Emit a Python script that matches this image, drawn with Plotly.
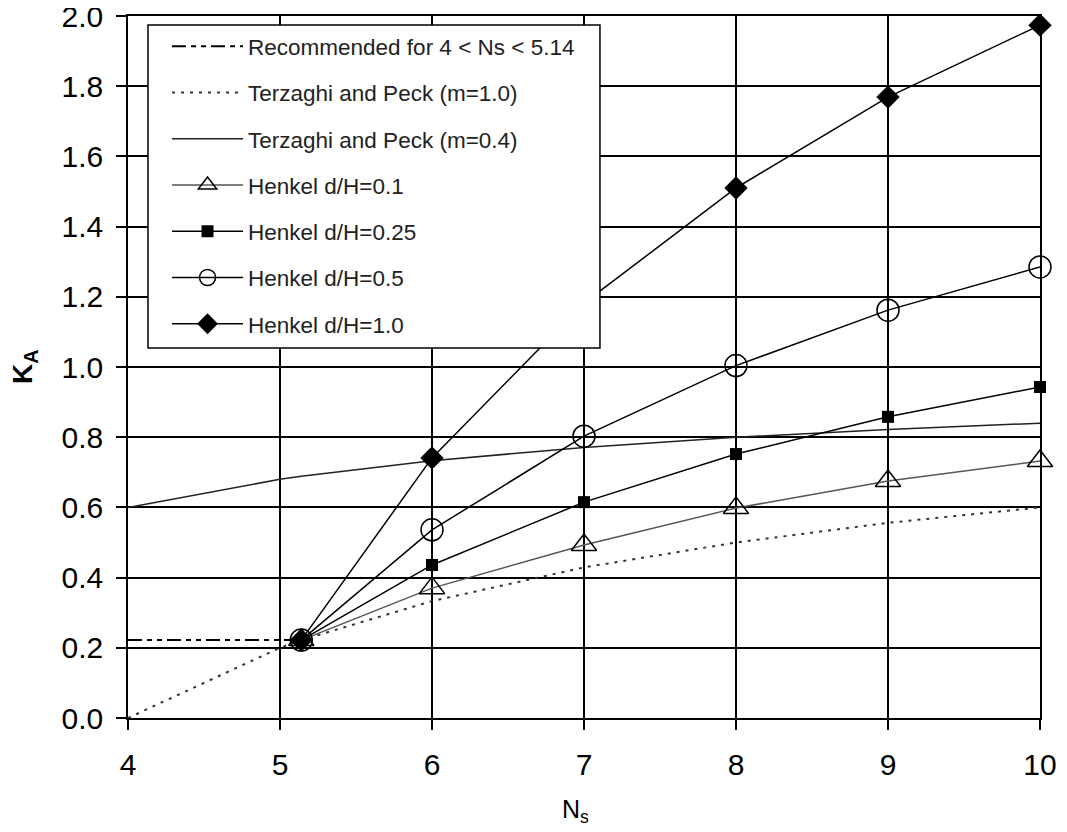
import plotly.graph_objects as go

# ---- data ----
rec_x = [4.0, 5.14]
rec_y = [0.222, 0.222]

tp10_x = [4, 5, 5.14, 6, 7, 8, 9, 10]
tp10_y = [0.0, 0.200, 0.222, 0.333, 0.429, 0.500, 0.556, 0.600]

tp04_x = [4, 5, 5.14, 6, 7, 8, 9, 10]
tp04_y = [0.600, 0.680, 0.689, 0.733, 0.771, 0.800, 0.822, 0.840]

hk_x = [5.14, 6, 7, 8, 9, 10]
hk010_y = [0.222, 0.370, 0.493, 0.598, 0.675, 0.732]
hk025_y = [0.222, 0.436, 0.615, 0.752, 0.858, 0.943]
hk050_y = [0.222, 0.536, 0.803, 1.004, 1.162, 1.285]
hk100_y = [0.222, 0.741, 1.182, 1.510, 1.769, 1.974]

x_ticks = [4, 5, 6, 7, 8, 9, 10]
y_ticks = [0.0, 0.2, 0.4, 0.6, 0.8, 1.0, 1.2, 1.4, 1.6, 1.8, 2.0]
y_ticklabels = [f"{v:.1f}" for v in y_ticks]

fig = go.Figure()

fig.add_trace(go.Scatter(
    x=rec_x, y=rec_y, mode="lines", name="Recommended for 4 < Ns < 5.14",
    legendgroup="a",
    line=dict(color="black", width=2, dash="14px,5px,5px,5px,5px,5px")))
fig.add_trace(go.Scatter(
    x=tp10_x, y=tp10_y, mode="lines", name="Terzaghi and Peck (m=1.0)",
    legendgroup="b",
    line=dict(color="#333333", width=2, dash="3px,6px")))
fig.add_trace(go.Scatter(
    x=tp04_x, y=tp04_y, mode="lines", name="Terzaghi and Peck (m=0.4)",
    legendgroup="c",
    line=dict(color="#222222", width=1.5)))
fig.add_trace(go.Scatter(
    x=hk_x, y=hk010_y, mode="lines+markers", name="Henkel d/H=0.1",
    legendgroup="d",
    line=dict(color="#555555", width=1.5),
    marker=dict(symbol="triangle-up-open", size=22, color="black",
                line=dict(color="black", width=1.5))))
fig.add_trace(go.Scatter(
    x=hk_x, y=hk025_y, mode="lines+markers", name="Henkel d/H=0.25",
    legendgroup="e",
    line=dict(color="black", width=1.5),
    marker=dict(symbol="square", size=12, color="black")))
fig.add_trace(go.Scatter(
    x=hk_x, y=hk050_y, mode="lines+markers", name="Henkel d/H=0.5",
    legendgroup="f",
    line=dict(color="black", width=1.5),
    marker=dict(symbol="circle-open", size=22, color="black",
                line=dict(color="black", width=1.5))))
fig.add_trace(go.Scatter(
    x=hk_x, y=hk100_y, mode="lines+markers", name="Henkel d/H=1.0",
    legendgroup="g",
    line=dict(color="black", width=1.5),
    marker=dict(symbol="diamond", size=18, color="black")))

for tr in fig.data:
    tr.cliponaxis = False

tick_font = dict(family="Liberation Sans, Arial, sans-serif", size=30, color="black")

# figure placed inside the page's default 8px body margin
fig.update_layout(
    width=1059, height=824,
    margin=dict(l=120, r=27, t=8, b=114, autoexpand=False),
    paper_bgcolor="white", plot_bgcolor="white",
    showlegend=True,
    legend=dict(
        x=0.0428, y=0.987, xanchor="left", yanchor="top",
        bgcolor="rgba(0,0,0,0)", borderwidth=0,
        font=dict(family="Liberation Sans, Arial, sans-serif", size=22.5, color="#222222"),
        itemwidth=71, tracegroupgap=14, traceorder="grouped",
    ),
    shapes=[
        # legend frame
        dict(type="rect", xref="paper", yref="paper",
             x0=0.0219, x1=0.5175, y0=0.527, y1=0.9872,
             fillcolor="white", line=dict(color="black", width=1.5), layer="above"),
    ],
    xaxis=dict(
        range=[4, 10], tickmode="array", tickvals=x_ticks,
        showgrid=True, gridcolor="black", gridwidth=1.5,
        showline=True, linecolor="black", linewidth=1.5, mirror=True,
        ticks="outside", ticklen=10, tickwidth=1.5, tickcolor="black",
        tickfont=tick_font, ticklabelstandoff=9, zeroline=False,
        automargin=False, ticklabeloverflow="allow",
    ),
    yaxis=dict(
        range=[0, 2], tickmode="array", tickvals=y_ticks, ticktext=y_ticklabels,
        showgrid=True, gridcolor="black", gridwidth=1.5,
        showline=True, linecolor="black", linewidth=1.5, mirror=True,
        ticks="outside", ticklen=10, tickwidth=1.5, tickcolor="black",
        tickfont=tick_font, ticklabelstandoff=7, zeroline=False,
        automargin=False, ticklabeloverflow="allow",
    ),
    annotations=[
        dict(text="<b>K<sub>A</sub></b>", xref="paper", yref="paper",
             x=-0.114, y=0.5, xanchor="center", yanchor="middle",
             textangle=-90, showarrow=False,
             font=dict(family="Liberation Sans, Arial, sans-serif", size=28, color="black")),
        dict(text="N<sub>s</sub>", xref="paper", yref="paper",
             x=0.491, y=-0.1325, xanchor="center", yanchor="middle",
             showarrow=False,
             font=dict(family="Liberation Sans, Arial, sans-serif", size=25, color="black")),
    ],
)

fig.write_html("out.html")
